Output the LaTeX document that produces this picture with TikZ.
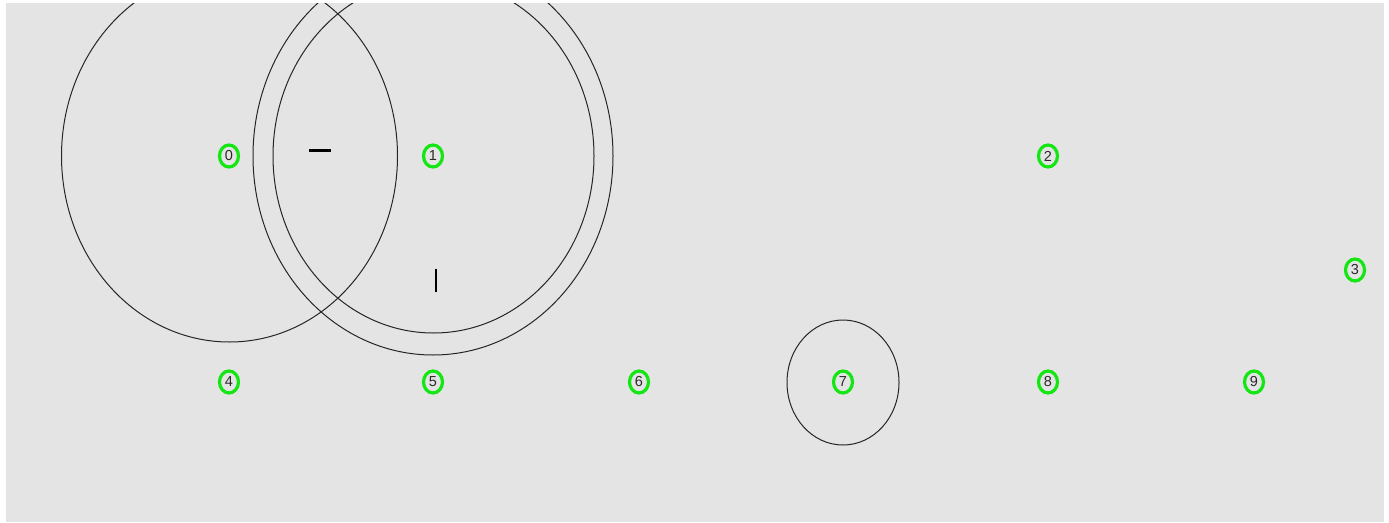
\documentclass[tikz,border=0pt]{standalone}
\usepackage{fontspec}
\setmainfont{Liberation Sans}
\usetikzlibrary{shapes.geometric}
\definecolor{bg}{HTML}{E4E4E4}
\definecolor{nodegreen}{HTML}{14E614}
\definecolor{txt}{HTML}{2A2A2A}
\begin{document}
\begin{tikzpicture}[x=1pt,y=-1pt,
  vnode/.style={ellipse, draw=nodegreen, line width=3.2pt, minimum width=19pt, minimum height=22pt, inner sep=0pt, font=\fontsize{14.5}{14.5}\selectfont, text=txt},
  ring/.style={draw=black!85, line width=1pt},
  tickmark/.style={draw=black, line width=2.6pt}]
\useasboundingbox (0,0) rectangle (1389,522);
\fill[white] (0,0) rectangle (1389,522);
\fill[bg] (6,3) rectangle (1384,522);
\begin{scope}
\clip (6,3) rectangle (1384,522);
\draw[ring] (229.5,156) ellipse [x radius=168pt, y radius=186pt];
\draw[ring] (433,156) ellipse [x radius=180pt, y radius=199pt];
\draw[ring] (433.5,156) ellipse [x radius=160.5pt, y radius=177pt];
\draw[ring] (843,382.5) ellipse [x radius=56pt, y radius=62.5pt];
\end{scope}
\node[vnode] (n0) at (229,156) {0};
\node[vnode] (n1) at (433,156) {1};
\node[vnode] (n2) at (1048,156) {2};
\node[vnode] (n3) at (1355,270) {3};
\node[vnode] (n4) at (229,382) {4};
\node[vnode] (n5) at (433,382) {5};
\node[vnode] (n6) at (639,382) {6};
\node[vnode] (n7) at (843,382) {7};
\node[vnode] (n8) at (1048,382) {8};
\node[vnode] (n9) at (1254,382) {9};
\coordinate (ha) at (309,150.5);
\coordinate (hb) at (331,150.5);
\coordinate (va) at (436,269);
\coordinate (vb) at (436,292);
\draw[tickmark] (ha) -- (hb);
\draw[tickmark] (va) -- (vb);
\end{tikzpicture}
\end{document}
